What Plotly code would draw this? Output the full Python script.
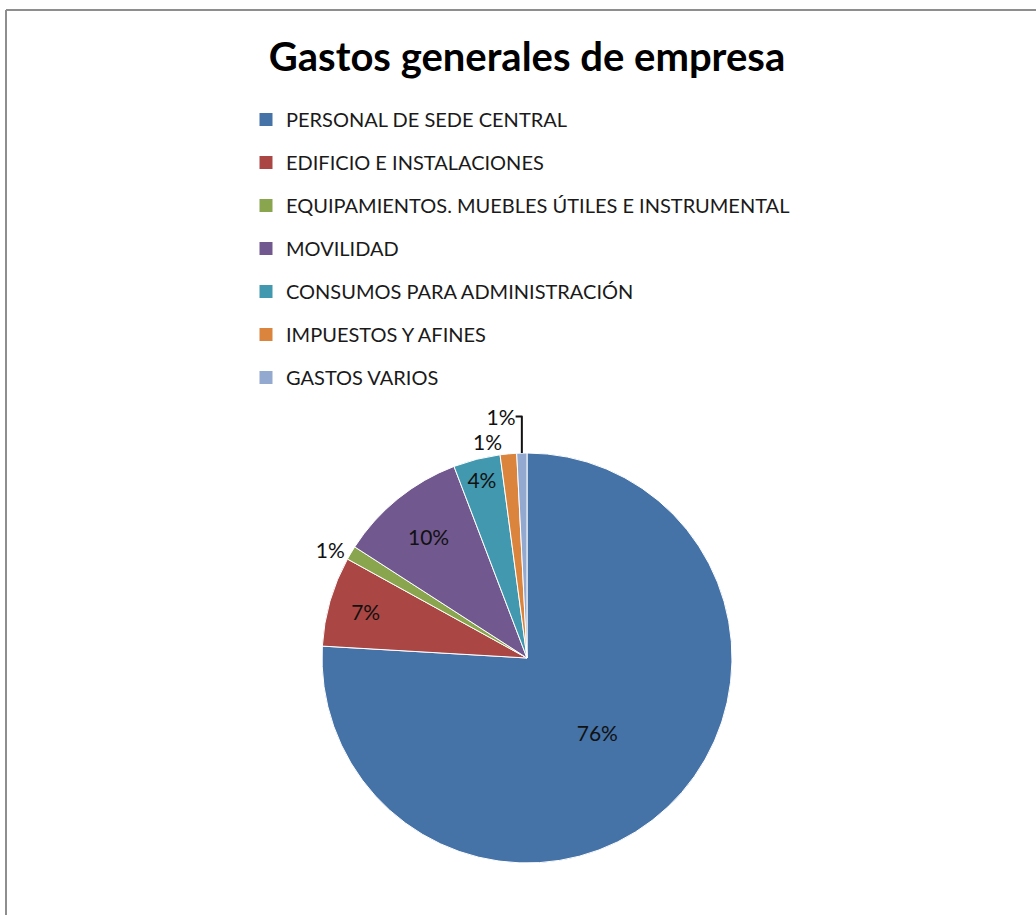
import plotly.graph_objects as go

categories = [
    "PERSONAL DE SEDE CENTRAL",
    "EDIFICIO E INSTALACIONES",
    "EQUIPAMIENTOS. MUEBLES ÚTILES E INSTRUMENTAL",
    "MOVILIDAD",
    "CONSUMOS PARA ADMINISTRACIÓN",
    "IMPUESTOS Y AFINES",
    "GASTOS VARIOS",
]
values = [76.0, 7.1, 1.1, 10.1, 3.7, 1.3, 0.8]
colors = ["#4572A7", "#AA4643", "#89A54E", "#71588F", "#4198AF", "#DB843D", "#93A9CF"]
text_positions = ["inside", "inside", "outside", "inside", "inside", "outside", "outside"]

W, H = 1036, 915
FONT = "Lato"

fig = go.Figure()

fig.add_trace(go.Pie(
    labels=categories,
    values=values,
    sort=False,
    direction="clockwise",
    rotation=0,
    marker=dict(colors=colors, line=dict(color="white", width=1)),
    texttemplate="%{percent:.0%}",
    textposition=text_positions,
    insidetextorientation="horizontal",
    textfont=dict(family=FONT, size=21, color="#111111"),
    insidetextfont=dict(family=FONT, size=21, color="#111111"),
    outsidetextfont=dict(family=FONT, size=21, color="#111111"),
    showlegend=False,
    hoverinfo="label+percent",
    domain=dict(x=[(527 - 205) / W, (527 + 205) / W],
                y=[(H - 658 - 205) / H, (H - 658 + 205) / H]),
))

# legend entries (one group per category to control spacing)
for name, col in zip(categories, colors):
    fig.add_trace(go.Scatter(
        x=[None], y=[None], mode="markers", name=name,
        marker=dict(symbol="square", size=13, color=col),
        legendgroup=name, showlegend=True, hoverinfo="skip",
    ))

fig.update_layout(
    width=W, height=H,
    margin=dict(l=0, r=0, t=0, b=0),
    paper_bgcolor="white", plot_bgcolor="white",
    xaxis=dict(visible=False), yaxis=dict(visible=False),
    title=dict(text="<b>Gastos generales de empresa</b>",
               font=dict(family=FONT, size=40, color="black"),
               x=527 / W, xanchor="center", y=1 - 57 / H, yanchor="middle",
               xref="paper", yref="container"),
    legend=dict(
        x=246 / W, xanchor="left", y=1 - 100 / H, yanchor="top",
        font=dict(family=FONT, size=20, color="#1a1a1a"),
        tracegroupgap=14, itemsizing="trace",
        bgcolor="rgba(0,0,0,0)",
    ),
    shapes=[
        dict(type="line", xref="paper", yref="paper",
             x0=6 / W, x1=6 / W, y0=0, y1=1 - 10 / H,
             line=dict(color="#8e8e8e", width=2)),
        dict(type="line", xref="paper", yref="paper",
             x0=6 / W, x1=1, y0=1 - 10 / H, y1=1 - 10 / H,
             line=dict(color="#8e8e8e", width=2)),
    ],
)

fig.write_html("out.html")
